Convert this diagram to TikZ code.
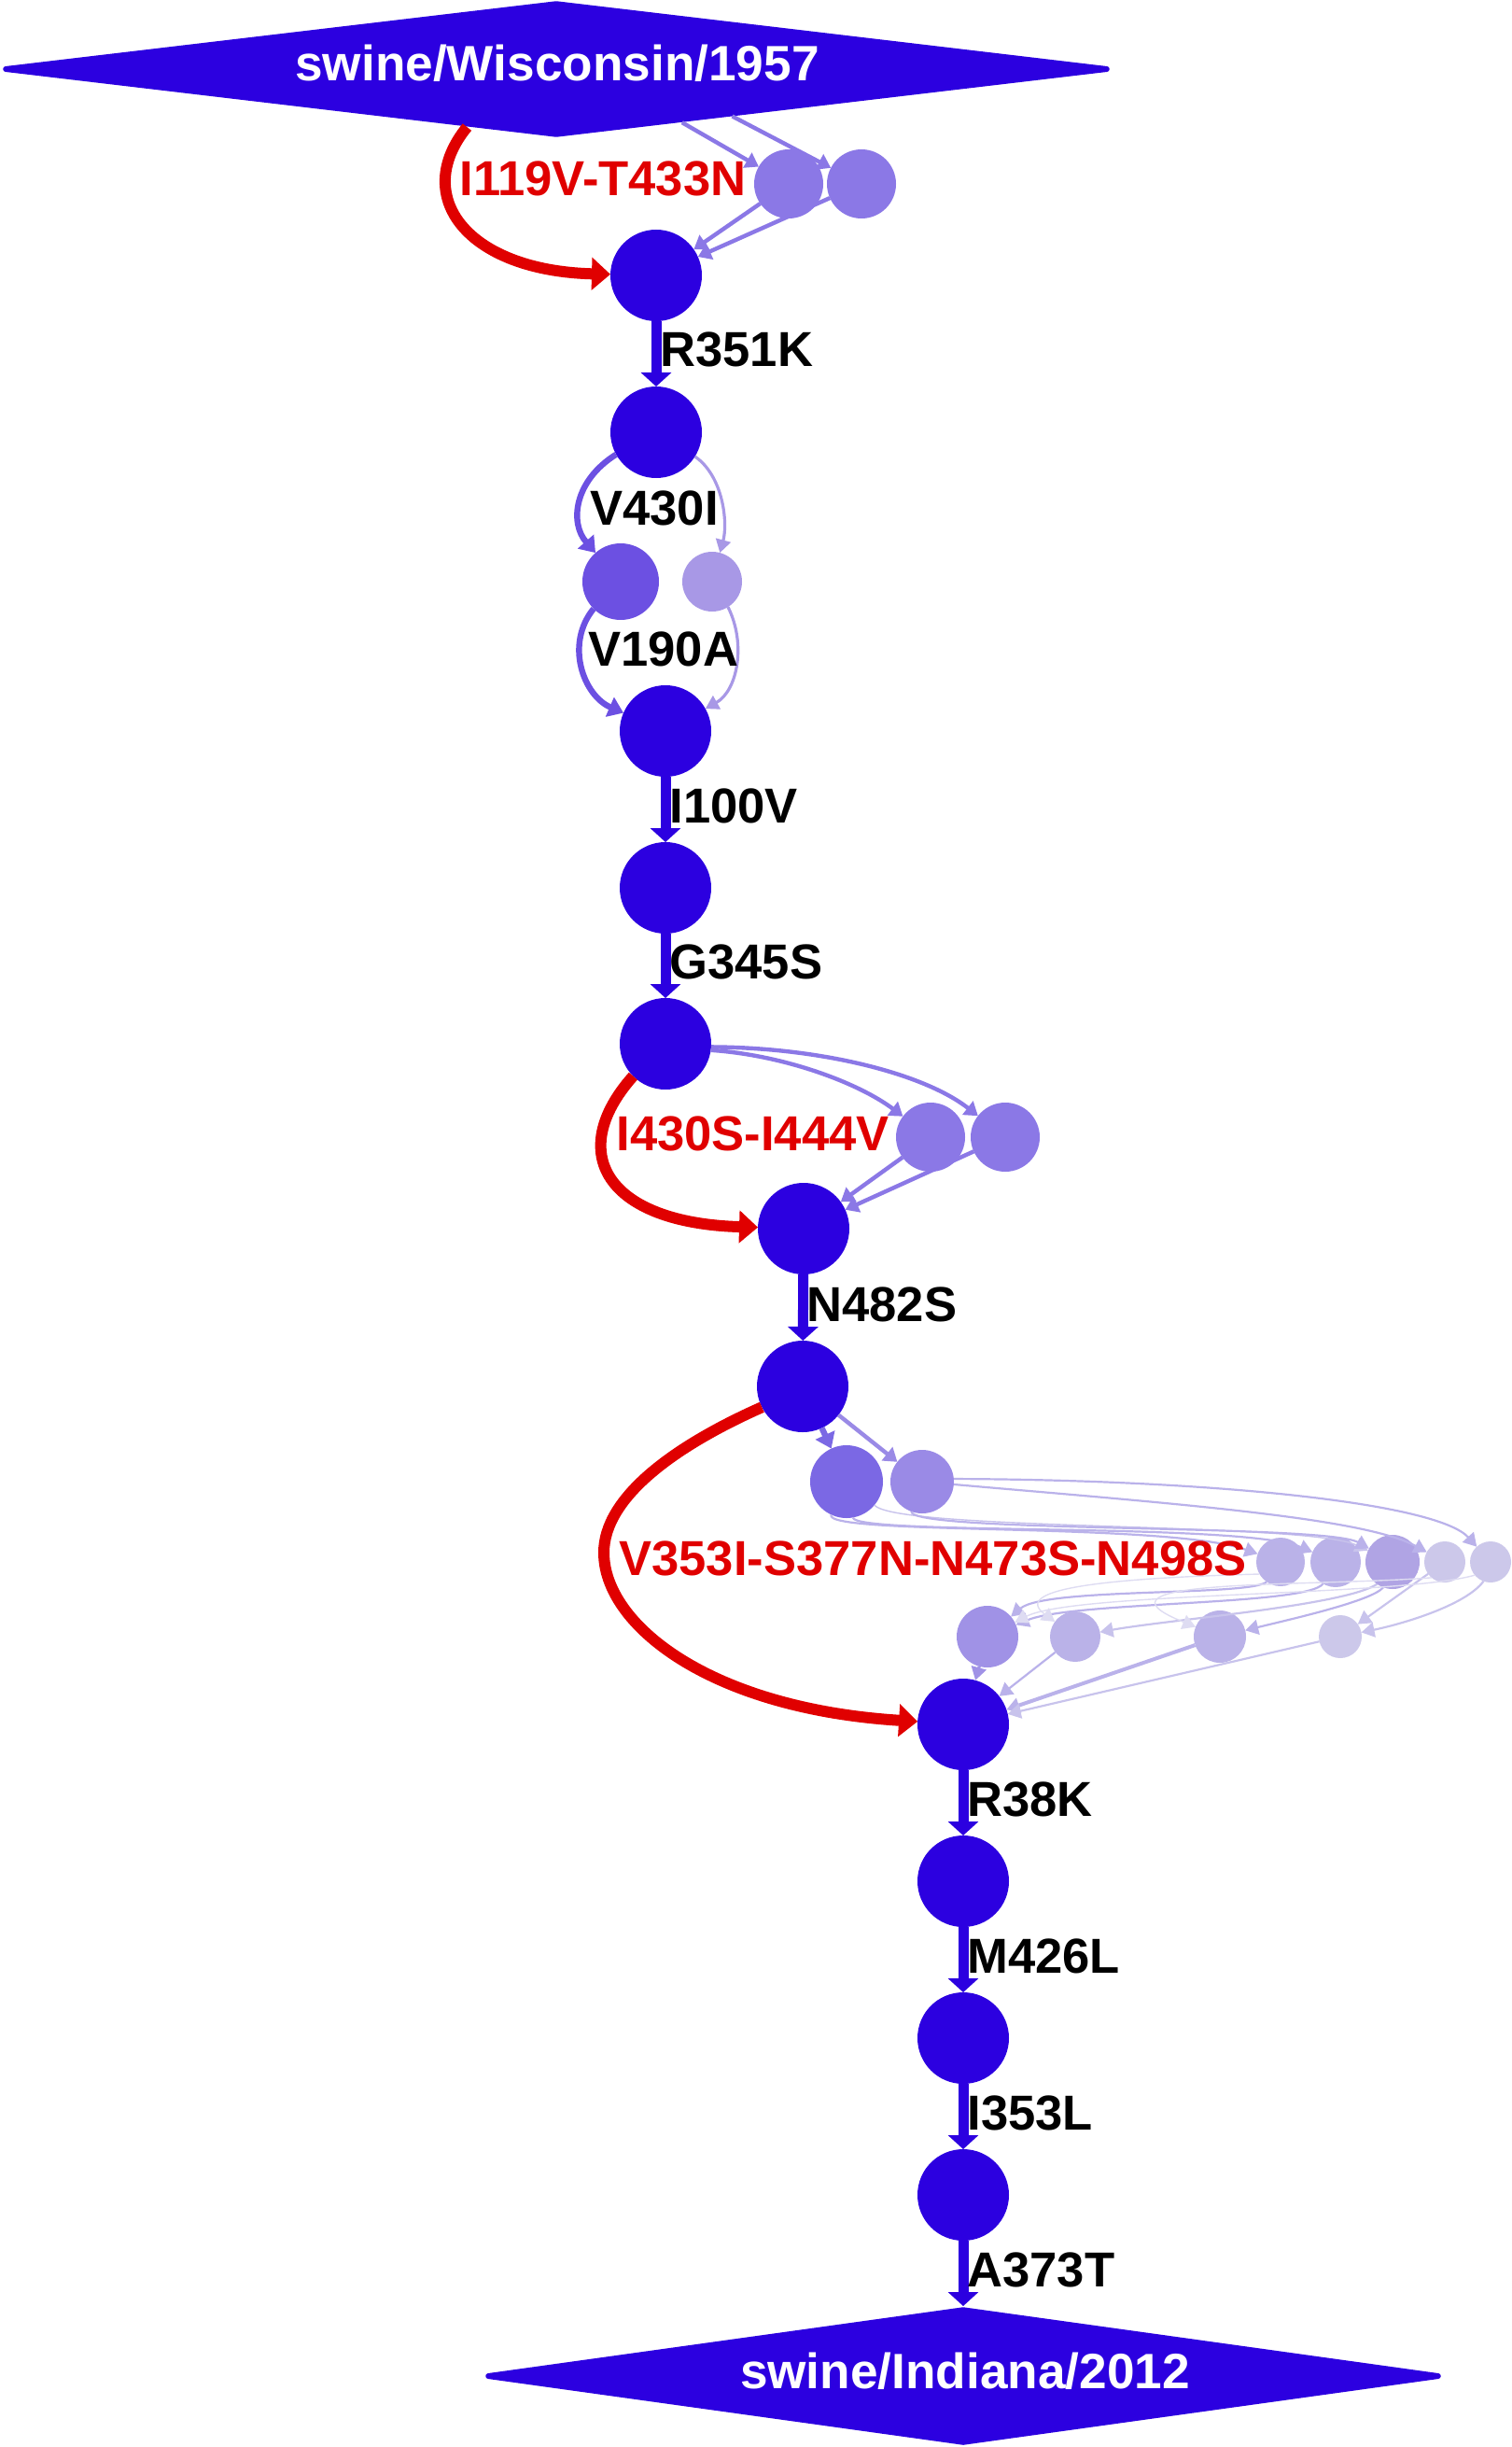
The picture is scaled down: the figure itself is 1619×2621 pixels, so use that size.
\documentclass[tikz,border=0pt]{standalone}
\usepackage{fontspec}
\setmainfont{Liberation Sans}
\usetikzlibrary{shapes.geometric,arrows.meta}
\definecolor{mainblue}{RGB}{44,0,224}
\definecolor{redc}{RGB}{224,0,0}
\definecolor{cL}{RGB}{139,120,230}
\definecolor{cMone}{RGB}{108,80,226}
\definecolor{cMtwo}{RGB}{168,152,230}
\definecolor{cQone}{RGB}{123,104,228}
\definecolor{cQtwo}{RGB}{154,138,230}
\definecolor{cR}{RGB}{186,178,232}
\definecolor{cRthree}{RGB}{176,164,228}
\definecolor{cF}{RGB}{204,200,234}
\definecolor{cSone}{RGB}{160,146,230}
\definecolor{eT}{RGB}{186,178,234}
\definecolor{eU}{RGB}{200,195,236}
\definecolor{eF}{RGB}{222,220,242}
\newcommand\lblfont{\bfseries\fontsize{26.3}{30}\selectfont}
\newcommand\dfont{\bfseries\fontsize{26.6}{30}\selectfont}
\tikzset{
  dot/.style 2 args={circle, inner sep=0pt, outer sep=0pt, fill=#1, minimum size=#2},
  mdot/.style={dot={mainblue}{49pt}},
  dmd/.style={diamond, fill=mainblue, draw=mainblue, line width=3pt, line join=round, inner sep=0pt, aspect=8},
  dtext/.style={font=\dfont, text=white, anchor=base, inner sep=0pt},
  lbl/.style={font=\lblfont, anchor=base west, inner sep=0pt},
  rlbl/.style={lbl, text=redc},
  mainedge/.style={draw=mainblue, line width=5.5pt, -{Triangle[length=7.5pt,width=16pt]}},
  rededge/.style={draw=redc, line width=6pt, -{Triangle[length=10pt,width=17pt]}},
  ledge/.style={draw=#1, line width=2.2pt, -{Triangle[length=7pt,width=9pt]}},
  medge/.style={draw=#1, line width=3.2pt, -{Triangle[length=8pt,width=11pt]}},
  tedge/.style={draw=#1, line width=1.1pt, -{Triangle[length=7pt,width=8pt]}},
  fedge/.style={draw=#1, line width=0.7pt, -{Triangle[length=7pt,width=8pt]}},
}
\begin{document}
\begin{tikzpicture}[x=0.5pt, y=-0.5pt]
\useasboundingbox (0,0) rectangle (1619,2621);

% diamonds
\node[dmd, minimum width=591pt, minimum height=71pt] (D1) at (596,74) {};
\node[dtext] (D1t) at (597,87) {swine/Wisconsin/1957};
\node[dmd, minimum width=510pt, minimum height=72pt] (D2) at (1032,2545) {};
\node[dtext] (D2t) at (1034,2558) {swine/Indiana/2012};

% main nodes
\node[mdot] (N1) at (703,295) {};
\node[mdot] (N2) at (703,463) {};
\node[mdot] (N3) at (713,783) {};
\node[mdot] (N4) at (713,951) {};
\node[mdot] (N5) at (713,1118) {};
\node[mdot] (N6) at (861,1316) {};
\node[mdot] (N7) at (860,1485) {};
\node[mdot] (N8) at (1032,1847) {};
\node[mdot] (N9) at (1032,2015) {};
\node[mdot] (N10) at (1032,2183) {};
\node[mdot] (N11) at (1032,2351) {};

% side nodes
\node[dot={cL}{37pt}] (L1) at (845,197) {};
\node[dot={cL}{37pt}] (L2) at (923,197) {};
\node[dot={cMone}{41pt}] (M1) at (665,623) {};
\node[dot={cMtwo}{32pt}] (M2) at (763,623) {};
\node[dot={cL}{37pt}] (P1) at (997,1218) {};
\node[dot={cL}{37pt}] (P2) at (1077,1218) {};
\node[dot={cQone}{39pt}] (Q1) at (907,1587) {};
\node[dot={cQtwo}{34pt}] (Q2) at (988,1587) {};
\node[dot={cR}{26pt}] (R1) at (1372,1673) {};
\node[dot={cR}{27pt}] (R2) at (1431,1673) {};
\node[dot={cRthree}{29pt}] (R3) at (1492,1673) {};
\node[dot={cF}{22pt}] (R4) at (1548,1673) {};
\node[dot={cF}{22pt}] (R5) at (1597,1673) {};
\node[dot={cSone}{33pt}] (S1) at (1058,1753) {};
\node[dot={cR}{27pt}] (S2) at (1152,1753) {};
\node[dot={cR}{28pt}] (S3) at (1307,1753) {};
\node[dot={cF}{23pt}] (S4) at (1436,1753) {};

% main chain
\draw[mainedge] (N1) -- (N2);
\draw[mainedge] (N3) -- (N4);
\draw[mainedge] (N4) -- (N5);
\draw[mainedge] (N6) -- (N7);
\draw[mainedge] (N8) -- (N9);
\draw[mainedge] (N9) -- (N10);
\draw[mainedge] (N10) -- (N11);
\draw[mainedge] (N11) -- (D2.north);

% top group
\draw[ledge=cL] (D1.337) -- (L1);
\draw[ledge=cL] (D1.345) -- (L2);
\draw[ledge=cL] (L1) -- (N1);
\draw[ledge=cL] (L2) -- (N1);
\draw[rededge] (D1.213) .. controls (440,210) and (500,290) .. (N1);

% V430I / V190A group
\draw[medge=cMone] (N2.209) .. controls (615,515) and (610,560) .. (M1);
\draw[tedge=cMtwo, line width=1.6pt] (N2.328) .. controls (775,510) and (780,560) .. (M2);
\draw[medge=cMone] (M1.225) .. controls (605,690) and (625,745) .. (N3);
\draw[tedge=cMtwo, line width=1.6pt] (M2.302) .. controls (800,690) and (790,740) .. (N3);

% I430S-I444V group
\draw[ledge=cL] (N5.352) .. controls (840,1130) and (920,1160) .. (P1);
\draw[ledge=cL] (N5.356) .. controls (880,1122) and (990,1150) .. (P2);
\draw[ledge=cL] (P1) -- (N6);
\draw[ledge=cL] (P2) -- (N6);
\draw[rededge] (N5.225) .. controls (605,1235) and (650,1310) .. (N6);

% big group
\draw[medge=cQone] (N7) -- (Q1);
\draw[ledge=cQtwo] (N7) -- (Q2);
\draw[tedge=eT] (Q2.5) .. controls (1300,1585) and (1540,1610) .. (R5);
\draw[tedge=eT] (Q2.355) .. controls (1250,1610) and (1460,1625) .. (R4);
\draw[tedge=eT] (Q1.245) .. controls (880,1645) and (1250,1630) .. (R1);
\draw[tedge=eT] (Q1.280) .. controls (915,1645) and (1330,1630) .. (R2);
\draw[fedge=eU] (Q1.320) .. controls (960,1640) and (1400,1630) .. (R3);
\draw[tedge=eT] (Q2.250) .. controls (975,1642) and (1420,1632) .. (R3);

\draw[tedge=eT] (R1.235) .. controls (1340,1710) and (1120,1700) .. (S1);
\draw[tedge=eT] (R2.240) .. controls (1400,1720) and (1150,1715) .. (S1);
\draw[tedge=eU] (R3.235) .. controls (1440,1720) and (1250,1735) .. (S2);
\draw[tedge=eT] (R3.250) .. controls (1470,1715) and (1380,1735) .. (S3);
\draw[tedge=eU] (R4) -- (S4);
\draw[tedge=eU] (R5.250) .. controls (1570,1720) and (1500,1740) .. (S4);
\draw[fedge=eF] (R5.220) .. controls (1500,1710) and (1150,1705) .. (S1);
\draw[fedge=eF] (R4.230) .. controls (1400,1700) and (1150,1690) .. (S3);
\draw[fedge=eF] (R1.210) .. controls (1200,1690) and (1080,1700) .. (S2);

\draw[tedge=cSone, line width=1.6pt] (S1) -- (N8);
\draw[tedge=eT] (S2) -- (N8);
\draw[tedge=eT, line width=2pt] (S3) -- (N8);
\draw[tedge=eU] (S4) -- (N8);
\draw[rededge] (N7.207) .. controls (720,1550) and (647,1605) .. (647,1663)
   .. controls (647,1740) and (760,1830) .. (N8);

% labels
\node[rlbl] (t1) at (492,210) {I119V-T433N};
\node[lbl] (t2) at (707,393) {R351K};
\node[lbl] (t3) at (632,562) {V430I};
\node[lbl] (t4) at (630,713) {V190A};
\node[lbl] (t5) at (717,881) {I100V};
\node[lbl] (t6) at (717,1048) {G345S};
\node[rlbl] (t7) at (660,1232) {I430S-I444V};
\node[lbl] (t8) at (864,1415) {N482S};
\node[rlbl] (t9) at (663,1687) {V353I-S377N-N473S-N498S};
\node[lbl] (t10) at (1036,1945) {R38K};
\node[lbl] (t11) at (1036,2113) {M426L};
\node[lbl] (t12) at (1036,2281) {I353L};
\node[lbl] (t13) at (1036,2449) {A373T};
\end{tikzpicture}
\end{document}
